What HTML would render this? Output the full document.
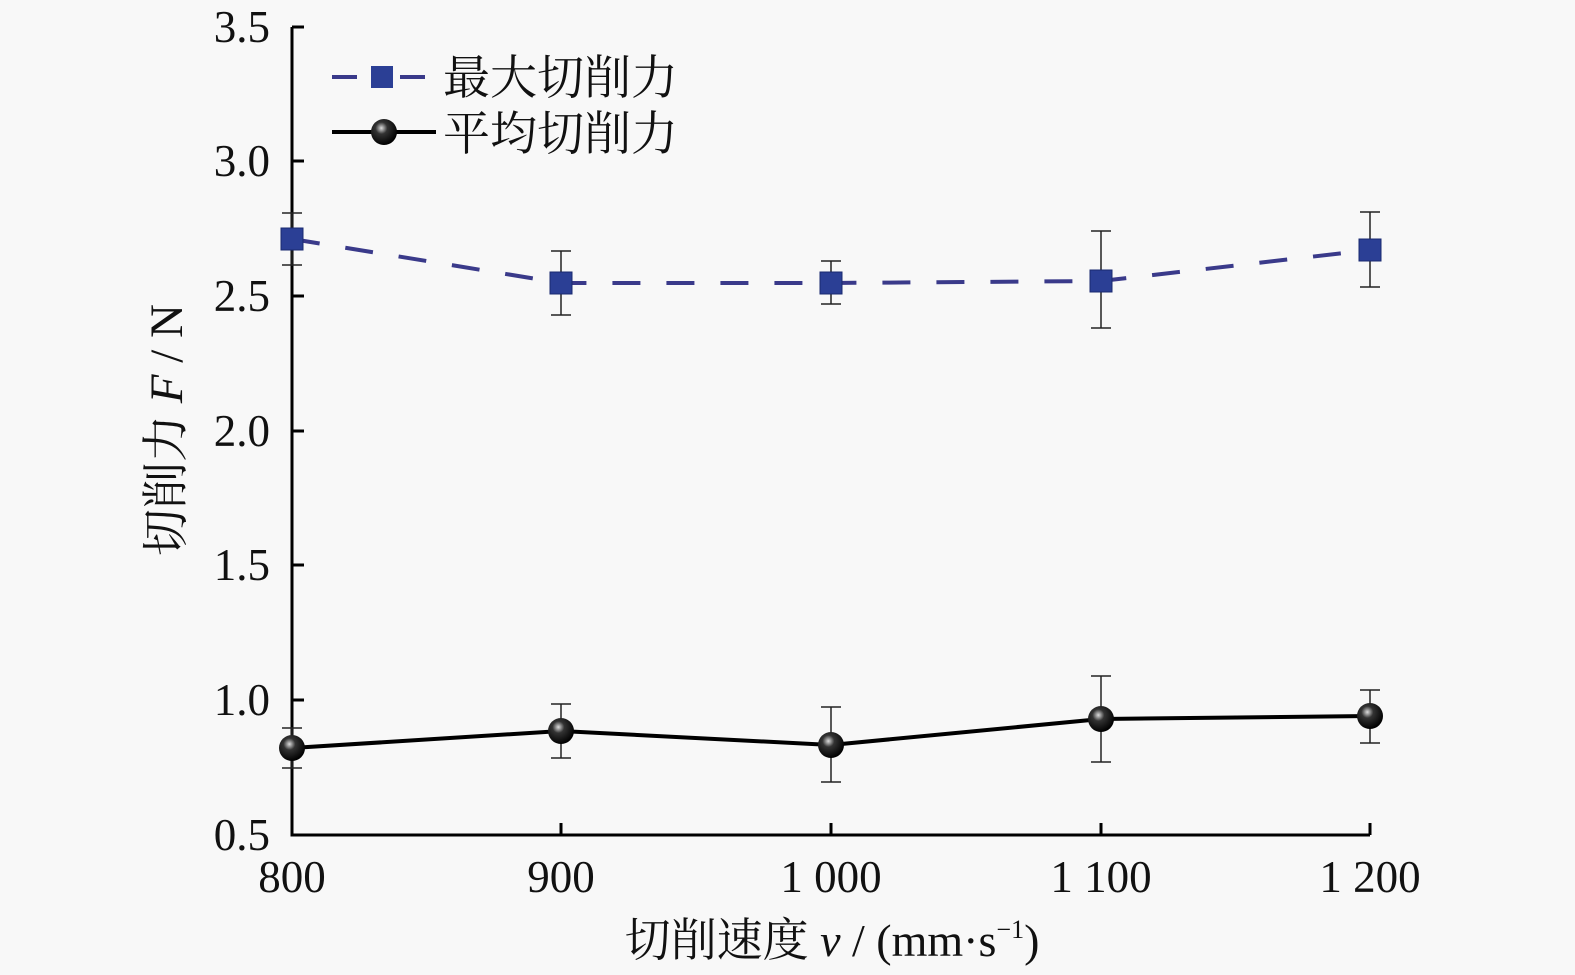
<!DOCTYPE html>
<html><head><meta charset="utf-8"><style>body{margin:0;background:#f8f8f8}svg{display:block}</style></head><body>
<svg width="1575" height="975" viewBox="0 0 1575 975" xmlns="http://www.w3.org/2000/svg" font-family="'Liberation Serif','Noto Serif CJK SC',serif">
<defs><radialGradient id="g" cx="0.4" cy="0.35" r="0.65"><stop offset="0" stop-color="#ddd"/><stop offset="0.35" stop-color="#333"/><stop offset="1" stop-color="#000"/></radialGradient></defs>
<rect width="1575" height="975" fill="#f8f8f8"/>
<g stroke="#000" stroke-width="3" fill="none">
<path d="M292 27V835H1370"/>
<path d="M292 27h12M292 161h12M292 296h12M292 431h12M292 565h12M292 700h12"/>
<path d="M561 835v-12M831 835v-12M1101 835v-12M1370 835v-12"/>
</g>
<g font-size="45" text-anchor="end" fill="#111">
<text x="270" y="42">3.5</text><text x="270" y="176">3.0</text><text x="270" y="311">2.5</text><text x="270" y="446">2.0</text><text x="270" y="580">1.5</text><text x="270" y="715">1.0</text><text x="270" y="850">0.5</text>
</g>
<g font-size="45" text-anchor="middle" fill="#111">
<text x="292" y="892">800</text><text x="561" y="892">900</text><text x="831" y="892">1 000</text><text x="1101" y="892">1 100</text><text x="1370" y="892">1 200</text>
</g>
<text x="832" y="956" font-size="46" text-anchor="middle" fill="#111">切削速度 <tspan font-style="italic">v</tspan> / (mm·s<tspan font-size="26" dy="-18">−1</tspan><tspan dy="18">)</tspan></text>
<text transform="translate(182,430) rotate(-90)" font-size="47" text-anchor="middle" fill="#111">切削力 <tspan font-style="italic">F</tspan> / N</text>
<g stroke="#222" stroke-width="1.5">
<path d="M292 213V265M282 213h20M282 265h20M561 251V315M551 251h20M551 315h20M831 261V304M821 261h20M821 304h20M1101 231V328M1091 231h20M1091 328h20M1370 212V287M1360 212h20M1360 287h20"/>
<path d="M292 728V768M282 728h20M282 768h20M561 704V758M551 704h20M551 758h20M831 707V782M821 707h20M821 782h20M1101 676V762M1091 676h20M1091 762h20M1370 690V743M1360 690h20M1360 743h20"/>
</g>
<polyline points="292,239 561,283 831,283 1101,281 1370,250" fill="none" stroke="#3a3a8a" stroke-width="4" stroke-dasharray="28,26"/>
<polyline points="292,748 561,731 831,745 1101,719 1370,716" fill="none" stroke="#000" stroke-width="4"/>
<g fill="#2b3f95" stroke="#1a2a70" stroke-width="1">
<rect x="281" y="228" width="22" height="22"/><rect x="550" y="272" width="22" height="22"/><rect x="820" y="272" width="22" height="22"/><rect x="1090" y="270" width="22" height="22"/><rect x="1359" y="239" width="22" height="22"/>
</g>
<g fill="url(#g)">
<circle cx="292" cy="748" r="13"/><circle cx="561" cy="731" r="13"/><circle cx="831" cy="745" r="13"/><circle cx="1101" cy="719" r="13"/><circle cx="1370" cy="716" r="13"/>
</g>
<path d="M332 77h25M400 77h25" stroke="#3a3a8a" stroke-width="4"/>
<rect x="371" y="66" width="22" height="22" fill="#2b3f95"/>
<path d="M332 132h104" stroke="#000" stroke-width="4"/>
<circle cx="384" cy="132" r="13" fill="url(#g)"/>
<text x="443" y="94" font-size="47" fill="#111">最大切削力</text>
<text x="443" y="150" font-size="47" fill="#111">平均切削力</text>
</svg>
</body></html>
